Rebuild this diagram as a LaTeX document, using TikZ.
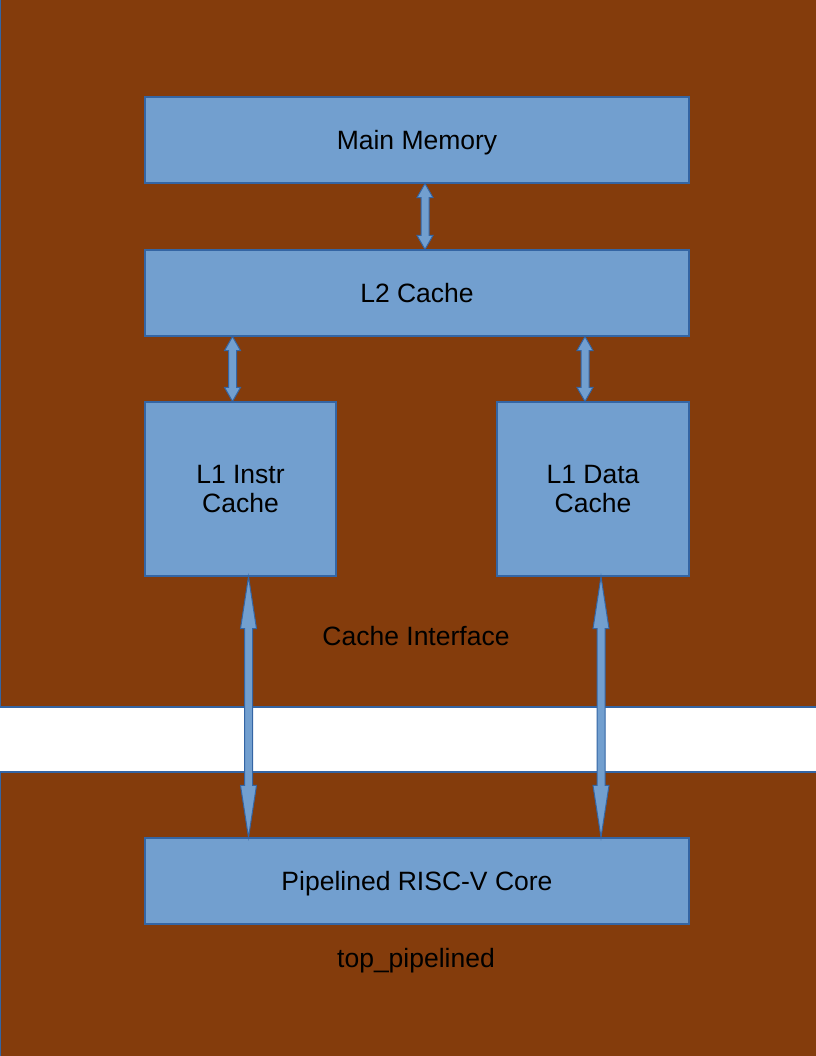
\documentclass[tikz,border=0pt]{standalone}
\usepackage{fontspec}
\setmainfont{Liberation Sans}
\usetikzlibrary{calc}
\definecolor{brick}{RGB}{132,60,12}
\definecolor{boxblue}{RGB}{114,159,207}
\definecolor{edgeblue}{RGB}{52,101,164}
\tikzset{
  block/.style={draw=edgeblue,fill=boxblue,line width=1.2bp,inner sep=0,
    align=center,text depth=0pt,font=\fontsize{26.6}{29}\selectfont},
  bus/.style={draw=edgeblue,fill=boxblue,line width=1bp,line join=miter},
  region/.style={draw=edgeblue,fill=brick,line width=1.5bp}
}
% fat two-headed arrow at x=#1 from the bottom of #2 to the top of #3
\newcommand\busarrow[4]{%
  \coordinate (t) at (#1,0 |- #2.south);
  \coordinate (b) at (#1,0 |- #3.north);
  \filldraw[bus] (t) -- ++(8,#4) -- ++(-4,0) -- ($(b)+(4,-#4)$) -- ++(4,0) -- (b)
    -- ++(-8,-#4) -- ++(4,0) -- ($(t)+(-4,#4)$) -- ++(-4,0) -- cycle;
}
\begin{document}
\begin{tikzpicture}[x=1bp,y=-1bp]
  \useasboundingbox (0,0) rectangle (816,1056);
  \filldraw[region] (0.75,-10) rectangle (830,707);
  \filldraw[region] (0.75,772) rectangle (830,1070);
  \node[block,minimum width=544bp,minimum height=86bp] (mainmem) at (417,140) {Main Memory};
  \node[block,minimum width=544bp,minimum height=86bp] (ltwo) at (417,293) {L2 Cache};
  \node[block,minimum width=191bp,minimum height=174bp] (lonei) at (240.5,489) {L1 Instr\\Cache};
  \node[block,minimum width=192bp,minimum height=174bp] (loned) at (593,489) {L1 Data\\Cache};
  \node[block,minimum width=544bp,minimum height=86bp] (core) at (417,881) {Pipelined RISC-V Core};
  \node[font=\fontsize{26.6}{29}\selectfont,text depth=0pt] (cacheif) at (416,636) {Cache Interface};
  \node[font=\fontsize{26.6}{29}\selectfont,text depth=0pt] (toplbl) at (416,958) {top\_pipelined};
  \busarrow{425}{mainmem}{ltwo}{14}
  \busarrow{232.5}{ltwo}{lonei}{14}
  \busarrow{585}{ltwo}{loned}{14}
  \busarrow{248.5}{lonei}{core}{52}
  \busarrow{601}{loned}{core}{52}
\end{tikzpicture}
\end{document}
